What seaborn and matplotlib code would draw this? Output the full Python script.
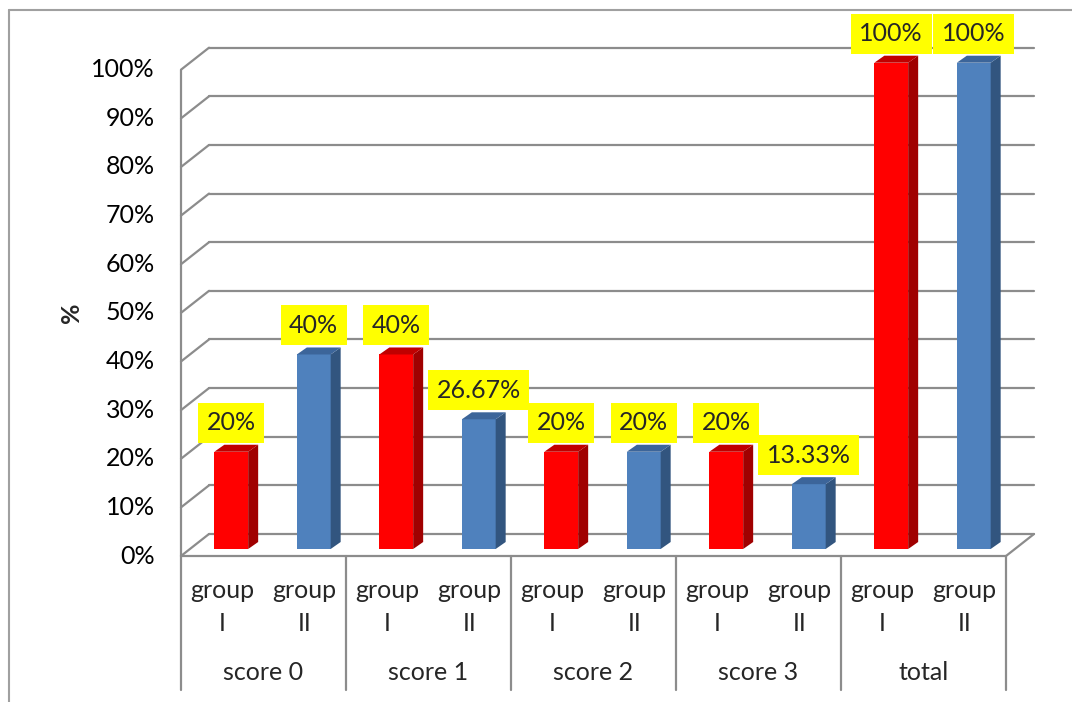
import matplotlib
matplotlib.use("Agg")
import matplotlib.pyplot as plt
from matplotlib.lines import Line2D
from matplotlib.patches import Polygon
import pandas as pd
import seaborn as sns

# data
categories = ["score 0", "score 1", "score 2", "score 3", "total"]
groups = ["group I", "group II"]
group_i = [20, 40, 20, 20, 100]
group_ii = [40, 26.67, 20, 13.33, 100]
ytick_values = list(range(0, 101, 10))

FRONT = {"group I": "#FF0000", "group II": "#4F81BD"}
SIDE = {"group I": "#A00000", "group II": "#32557F"}
TOP = {"group I": "#C00000", "group II": "#3C659A"}
GRID = "#8C8C8C"


def fmt(v):
    return f"{v:.0f}%" if float(v).is_integer() else f"{v:.2f}%"


rows = []
for cat, a, b in zip(categories, group_i, group_ii):
    rows.append({"slot": f"{cat}|group I", "category": cat, "group": "group I", "value": a})
    rows.append({"slot": f"{cat}|group II", "category": cat, "group": "group II", "value": b})
df = pd.DataFrame(rows)

sns.set_theme(style="white")
plt.rcParams["font.family"] = ["Lato", "DejaVu Sans"]
FS = 18

W, H = 1072, 702
fig = plt.figure(figsize=(W / 100, H / 100), dpi=100)
# axes = plane in which the bar front faces sit
ax = fig.add_axes([190 / W, (H - 549) / H, 825 / W, 486.3 / H])

sns.barplot(data=df, x="slot", y="value", hue="group", order=list(df["slot"]),
            palette=FRONT, saturation=1, width=0.41, dodge=False, legend=False,
            linewidth=0, ax=ax, zorder=3)
ax.set_xlim(-0.5, len(df) - 0.5)
ax.set_ylim(0, 100)
ax.axis("off")
bars = sorted(ax.patches, key=lambda p: p.get_x())

# pixels -> data units
ux = 825 / len(df)
uy = 486.3 / 100
fx, fy = -9 / ux, -7 / uy        # front plane offset
bx, by = 19 / ux, 15 / uy        # back wall offset
dx, dy = 10 / ux, 7 / uy         # bar depth
x_lo, x_hi = -0.5, len(df) - 0.5

line_kw = dict(color=GRID, lw=1.6, clip_on=False, zorder=1)
for v in ytick_values:
    ax.plot([x_lo + bx, x_hi + bx], [v + by, v + by], **line_kw)
    ax.plot([x_lo + fx, x_lo + bx], [v + fy, v + by], **line_kw)
    ax.text(x_lo + fx - 26 / ux, v + fy, f"{v}%", ha="right", va="center",
            fontsize=FS, color="black")
ax.plot([x_lo + fx, x_lo + fx], [fy, 100 + fy], **line_kw)
ax.plot([x_lo + fx, x_hi + fx], [fy, fy], **line_kw)
ax.plot([x_hi + fx, x_hi + bx], [fy, by], **line_kw)

# 3D faces + data labels from the drawn bars
for bar, (_, row) in zip(bars, df.iterrows()):
    x0, w, h = bar.get_x(), bar.get_width(), bar.get_height()
    x1 = x0 + w
    side = Polygon([(x1, 0), (x1, h), (x1 + dx, h + dy), (x1 + dx, dy)],
                   closed=True, fc=SIDE[row["group"]], ec="none", zorder=3, clip_on=False)
    top = Polygon([(x0, h), (x1, h), (x1 + dx, h + dy), (x0 + dx, h + dy)],
                  closed=True, fc=TOP[row["group"]], ec="none", zorder=3, clip_on=False)
    ax.add_patch(side)
    ax.add_patch(top)
    ax.annotate(fmt(row["value"]), (x0 + w / 2, h), xytext=(0, 29 * 0.72),
                textcoords="offset points", ha="center", va="center", fontsize=FS,
                bbox=dict(boxstyle="square,pad=0.34", fc="#FFFF00", ec="none"),
                zorder=5, annotation_clip=False)

# category axis table
tab_bottom = fy - (690 - 556) / uy
for k in range(len(categories) + 1):
    xk = x_lo + 2 * k + fx
    ax.plot([xk, xk], [fy, tab_bottom], **line_kw)
for i, (_, row) in enumerate(df.iterrows()):
    grp_word, grp_num = row["group"].split(" ")
    ax.text(i + fx, fy - 51 / uy, f"{grp_word}\n{grp_num}", ha="center", va="center",
            fontsize=FS, linespacing=1.55)
for k, cat in enumerate(categories):
    ax.text(2 * k + 0.5 + fx, fy - 116 / uy, cat, ha="center", va="center", fontsize=FS)

ax.text(x_lo + (72 - 190) / ux, 50 + fy, "%", rotation=90, ha="center", va="center",
        fontsize=FS, fontweight="bold")

# chart area border (left and top visible in reference)
fig.add_artist(Line2D([9 / W, 9 / W], [0, (H - 10) / H], color="#A0A0A0", lw=1.5))
fig.add_artist(Line2D([9 / W, 1], [(H - 10) / H, (H - 10) / H], color="#A0A0A0", lw=1.5))

fig.savefig("out.png", dpi=100, facecolor="white")
